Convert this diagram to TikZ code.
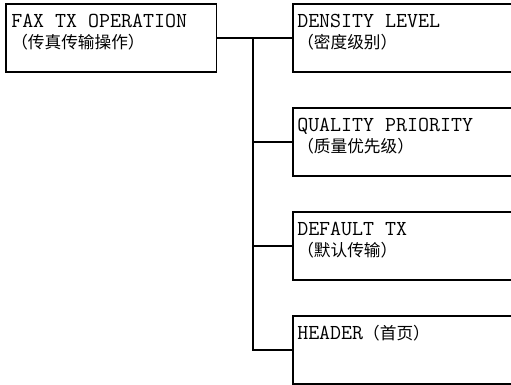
\documentclass[tikz,border=0pt]{standalone}
\usepackage{fontspec}
\newfontfamily\cjk{Noto Sans CJK SC}
\usetikzlibrary{positioning}
\newcommand{\zh}[1]{{\cjk\fontsize{12.5}{15.75}\selectfont #1}}
\tikzset{
  menubox/.style={draw, line width=1.2pt, anchor=north west, inner sep=0pt, minimum height=51pt},
  menutext/.style={inner sep=0pt, align=left, font=\ttfamily\fontsize{16}{15.75}\selectfont},
  link/.style={line width=1.2pt}
}
\begin{document}
\begin{tikzpicture}[x=0.75pt, y=-0.75pt]
    \useasboundingbox (0,0) rectangle (511,385);
    \clip (0,0) rectangle (511,385);
    % menu boxes
    \node[menubox, minimum width=158pt] (fax) at (5,3) {};
    \node[menubox, minimum width=201pt] (density) at (292,3) {};
    \node[menubox, minimum width=201pt] (quality) at (292,107) {};
    \node[menubox, minimum width=201pt] (default) at (292,211) {};
    \node[menubox, minimum width=201pt] (header) at (292,315) {};
    % labels (base = baseline of the last line)
    \node[menutext, below right=34pt and 4.5pt of fax.north west, anchor=base west] (faxtext) {FAX TX OPERATION\\\zh{（传真传输操作）}};
    \node[menutext, below right=34pt and 3.75pt of density.north west, anchor=base west] (densitytext) {DENSITY LEVEL\\\zh{（密度级别）}};
    \node[menutext, below right=34pt and 3.75pt of quality.north west, anchor=base west] (qualitytext) {QUALITY PRIORITY\\\zh{（质量优先级）}};
    \node[menutext, below right=34pt and 3.75pt of default.north west, anchor=base west] (defaulttext) {DEFAULT TX\\\zh{（默认传输）}};
    \node[menutext, below right=18pt and 3.75pt of header.north west, anchor=base west] (headertext) {HEADER\zh{（首页）}};
    % connectors
    \coordinate (bus) at (253,0);
    \draw[link] (fax.east) -- (density.west);
    \draw[link] (density.west -| bus) |- (header.west);
    \draw[link] (quality.west -| bus) -- (quality.west);
    \draw[link] (default.west -| bus) -- (default.west);
\end{tikzpicture}
\end{document}
